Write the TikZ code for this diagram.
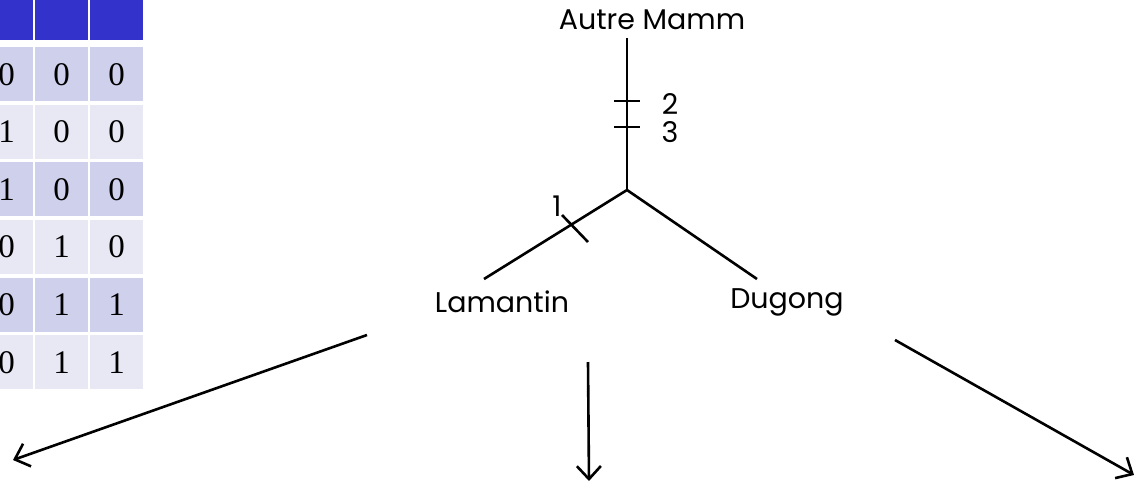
\documentclass[tikz,border=0pt]{standalone}
\usepackage{fontspec}
\setmainfont{Liberation Serif}
\newfontfamily\comicf{Poppins}
\usetikzlibrary{arrows.meta}
\definecolor{hdr}{RGB}{51,51,204}
\definecolor{rowA}{RGB}{207,208,236}
\definecolor{rowB}{RGB}{232,232,245}
\begin{document}
\begin{tikzpicture}[x=1pt,y=-1pt,
  cellbox/.style={inner sep=0pt, minimum width=53pt, minimum height=54pt, anchor=north west, font=\fontsize{33}{33}\selectfont},
  hdrbox/.style={inner sep=0pt, minimum width=53pt, minimum height=40pt, anchor=north west, fill=hdr},
  lab/.style={inner sep=0pt, font=\comicf\fontsize{28.5}{28.5}\selectfont},
  tree/.style={line width=2.6pt},
  arr/.style={line width=2.6pt, -{Straight Barb[length=13pt,width=24pt,line width=2.6pt]}}]
\useasboundingbox (0,0) rectangle (1136,483);
% table header
\node[hdrbox] (h1) at (-20,0) {};
\node[hdrbox] (h2) at (35,0) {};
\node[hdrbox] (h3) at (90,0) {};
% table rows
\foreach \r/\a/\b/\c [count=\i] in {0/0/0/0, 1/1/0/0, 2/1/0/0, 3/0/1/0, 4/0/1/1, 5/0/1/1}{
  \pgfmathsetmacro{\yt}{47+57.6*\r}
  \ifodd\i \def\fc{rowA}\else\def\fc{rowB}\fi
  \node[cellbox, fill=\fc] (c\i a) at (-20,\yt) {\a};
  \node[cellbox, fill=\fc] (c\i b) at (35,\yt) {\b};
  \node[cellbox, fill=\fc] (c\i c) at (90,\yt) {\c};
}
% tree
\node[lab] (am) at (652,20) {Autre Mamm};
\node[lab] (lam) at (502,302) {Lamantin};
\node[lab] (dug) at (787,302) {Dugong};
\node[lab] (n2) at (670,104) {2};
\node[lab] (n3) at (670,132) {3};
\node[lab] (n1) at (557,206) {1};
\coordinate (top) at (627,38);
\coordinate (j) at (627,190);
\coordinate (lend) at (484,279);
\coordinate (rend) at (757,279);
\draw[tree] (top) -- (j);
\draw[tree] (j) -- (lend);
\draw[tree] (j) -- (rend);
\coordinate (t2a) at (614,101); \coordinate (t2b) at (640,101);
\coordinate (t3a) at (614,127); \coordinate (t3b) at (640,127);
\coordinate (t1a) at (562,215); \coordinate (t1b) at (588,242);
\draw[tree] (t2a) -- (t2b);
\draw[tree] (t3a) -- (t3b);
\draw[tree] (t1a) -- (t1b);
% arrows
\coordinate (a1s) at (367,335); \coordinate (a1e) at (13,460);
\coordinate (a2s) at (588,362); \coordinate (a2e) at (589,481);
\coordinate (a3s) at (895,340); \coordinate (a3e) at (1134,475);
\draw[arr] (a1s) -- (a1e);
\draw[arr] (a2s) -- (a2e);
\draw[arr] (a3s) -- (a3e);
\end{tikzpicture}
\end{document}
